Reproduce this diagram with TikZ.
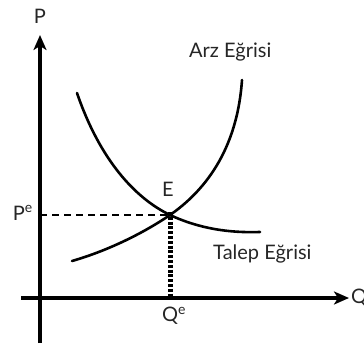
\documentclass[tikz,border=0pt]{standalone}
\usepackage{fontspec}
\setmainfont{Lato}
\usetikzlibrary{arrows.meta}
\begin{document}
\begin{tikzpicture}[x=1pt,y=-1pt,
  axis/.style={line width=3.6pt,-{Stealth[length=15pt,width=13pt,inset=4pt]}},
  curve/.style={line width=2.6pt,line cap=round},
  lbl/.style={font=\fontsize{20}{23}\selectfont,text=black!85,inner sep=0pt},
  dashline/.style={line width=2.2pt,dash pattern=on 7pt off 5pt},
  dotline/.style={line width=5pt,dash pattern=on 3pt off 1.8pt}]
\useasboundingbox (0,0) rectangle (364,343);
\coordinate (yb) at (40,343);
\coordinate (yt) at (40,35);
\coordinate (xl) at (21,298);
\coordinate (xr) at (349,298);
\coordinate (E) at (170,215);
\coordinate (pe) at (40,215);
\coordinate (qe) at (170,298);
\coordinate (d0) at (77,93);
\coordinate (d1) at (260,232);
\coordinate (s0) at (72,261);
\coordinate (s1) at (242,80);
\draw[dashline] (pe) -- (E);
\draw[dotline] ([yshift=3pt]E) -- (qe);
\draw[axis] (yb) -- (yt);
\draw[axis] (xl) -- (xr);
\draw[curve] (d0) .. controls (100,160) and (135,198) .. (E) .. controls (200,229) and (230,233) .. (d1);
\draw[curve] (s0) .. controls (110,250) and (145,232) .. (E) .. controls (203,192) and (237,152) .. (s1);
\node[lbl] (P) at (40,16) {P};
\node[lbl,anchor=west] (Q) at (351,298) {Q};
\node[lbl,anchor=east] (Pe) at (33,213) {P\textsuperscript{e}};
\node[lbl] (Qe) at (174,316) {Q\textsuperscript{e}};
\node[lbl] (El) at (168,189) {E};
\node[lbl,anchor=west] (arz) at (189,52) {Arz Eğrisi};
\node[lbl,anchor=west] (talep) at (213,254) {Talep Eğrisi};
\end{tikzpicture}
\end{document}
